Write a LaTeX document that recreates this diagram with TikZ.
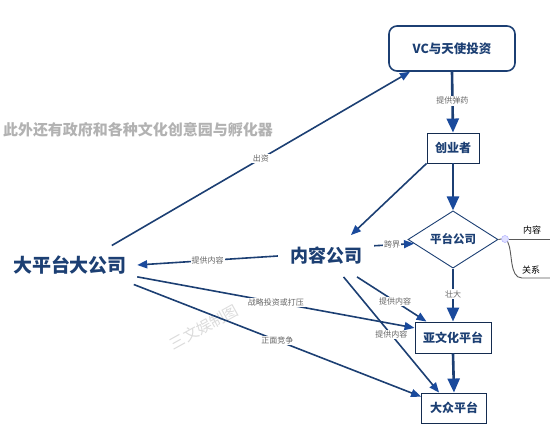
\documentclass[tikz,border=0pt]{standalone}
\usepackage{fontspec}
\setmainfont{Noto Sans CJK SC}
\usetikzlibrary{positioning,shapes.geometric,arrows.meta}
\definecolor{navy}{HTML}{1C3F73}
\definecolor{tipblue}{HTML}{1A4A9C}
\newcommand{\Fs}[1]{\fontsize{#1}{#1}\selectfont}

\begin{document}
\begin{tikzpicture}[x=1pt,y=-1pt,
  link/.style={draw=navy,line width=1.6pt,-{Triangle[length=10pt,width=8pt,color=tipblue]}},
  mainlink/.style={draw=navy,line width=2.6pt,-{Triangle[length=14pt,width=12pt,color=tipblue]}},
  lbl/.style={font=\Fs{8},text=black!60,fill=white,inner sep=1pt},
  stepbox/.style={draw=navy!70!black,line width=0.9pt,font=\Fs{12}\bfseries,text=navy,minimum height=30pt},
  bigtext/.style={font=\Fs{19}\bfseries,text=navy,inner sep=10pt},
  twig/.style={draw=black!65,line width=0.9pt}]
\useasboundingbox (0,0) rectangle (550,430);

% boxes down the right
\node[draw=navy,line width=1.6pt,rounded corners=8pt,minimum width=126pt,minimum height=45pt,
  font=\Fs{12.5}\bfseries,text=navy] (vc) at (452,48.5) {VC与天使投资};
\node[stepbox,minimum width=52pt] (cy) at (453,148) {创业者};
\node[diamond,draw=navy,line width=0.9pt,minimum width=90pt,minimum height=53pt,inner sep=0pt,
  font=\Fs{11.5}\bfseries,text=navy] (pt) at (453,239.5) {平台公司};
\node[stepbox,minimum width=76pt,minimum height=31pt] (yw) at (453,337.5) {亚文化平台};
\node[stepbox,minimum width=65pt] (dz) at (454,408) {大众平台};

% the two companies on the left
\node[bigtext] (dp) at (70,265) {大平台大公司};
\node[bigtext,font=\Fs{18}\bfseries,inner sep=12pt] (nk) at (326,256) {内容公司};

\node[font=\Fs{15}\bfseries,text=black!30] (note) at (138,130) {此外还有政府和各种文化创意园与孵化器};
\node[rotate=29,font=\Fs{15},text=black!14] (mark) at (204,327) {三文娱制图};

% main chain
\draw[mainlink] (vc.south) -- node[lbl,pos=.48]{提供弹药} (cy.north);
\draw[mainlink] (cy.south) -- (pt.north);
\draw[mainlink] (pt.south) -- node[lbl,pos=.48]{壮大} (yw.north);
\draw[mainlink] (yw.south) -- (dz.north);

% other links
\draw[link] (dp.25) -- node[lbl,pos=.5]{出资} (vc.209);
\draw[link] (cy.south west) -- (nk.40);
\draw[link] (nk.west) -- node[lbl,pos=.5]{提供内容} (dp.east);
\draw[link] (nk.12) -- node[lbl,pos=.45]{跨界} (pt.186);
\draw[link] (nk.-34) -- node[lbl,pos=.55]{提供内容} (yw.149);
\draw[link] (nk.-50) -- node[lbl,pos=.5]{提供内容} (dz.134);
\draw[link] (dp.-10) -- node[lbl,pos=.5]{战略投资或打压} (yw.166);
\draw[link] (dp.-17) -- node[lbl,pos=.5]{正面竞争} (dz.161);

% branch on the right
\node[circle,draw=blue!35,fill=blue!12,minimum size=7pt,inner sep=0pt] (knob) at (505,239) {};
\coordinate (br1) at (550,239);
\coordinate (br2) at (550,278);
\draw[twig] (pt.east) -- (knob.west);
\draw[twig] (knob.east) -- (br1);
\draw[twig] (knob.south east) .. controls (513,252) and (509,278) .. (522,278) -- (br2);
\node[font=\Fs{9}] (nr) at (532,230) {内容};
\node[font=\Fs{9}] (gx) at (531,270) {关系};
\end{tikzpicture}
\end{document}
